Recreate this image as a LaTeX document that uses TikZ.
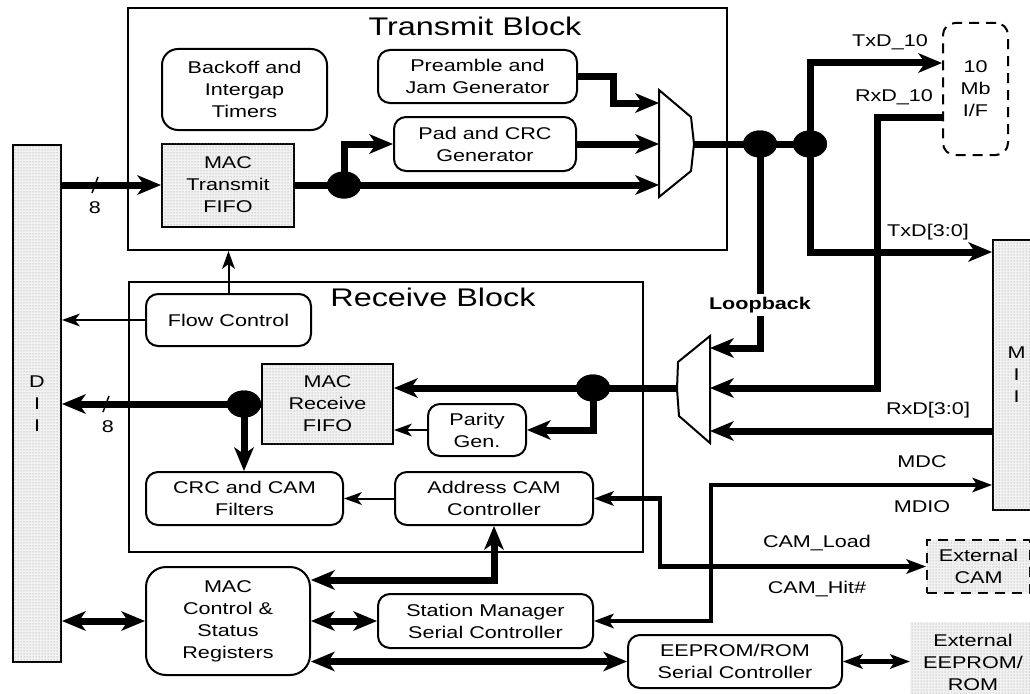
\documentclass[tikz,border=0pt]{standalone}
\usepackage{fontspec}
\setmainfont[FakeStretch=1.27]{Liberation Sans}
\usetikzlibrary{arrows.meta,shapes.geometric,calc,patterns}

\tikzset{
  x=1pt, y=-1pt,
  every node/.style={font=\fontsize{17}{22}\selectfont, align=center, inner sep=0pt},
  unit/.style={draw, line width=2pt, rounded corners=12pt, fill=white},
  stipple/.style={fill=black!5, postaction={pattern=dots, pattern color=black!45}},
  fifo/.style={draw, line width=2pt, stipple},
  blockbox/.style={draw, line width=2pt},
  extbox/.style={draw, line width=2pt, dash pattern=on 10pt off 7pt},
  title/.style={font=\fontsize{25.5}{30}\selectfont},
  dot/.style={ellipse, fill=black, minimum width=34pt, minimum height=27pt},
  mux/.style={draw, line width=2pt, fill=white, line join=miter},
  bushead/.tip={Stealth[length=24pt, width=20pt, inset=7pt, line width=0pt]},
  sighead/.tip={Stealth[length=20pt, width=15pt, inset=5pt, line width=0pt]},
  ctlhead/.tip={Stealth[length=18pt, width=13pt, inset=5pt, line width=0pt]},
  bus/.style={line width=7pt},
  sig/.style={line width=4.5pt},
  ctl/.style={line width=2pt},
}

\begin{document}
\begin{tikzpicture}
\useasboundingbox (0,0) rectangle (1030,693);
\clip (0,0) rectangle (1030,693);

% outer blocks
\node[blockbox, minimum width=599pt, minimum height=242pt] (tblock) at (427.5,129) {};
\node[title] at (475,26) {Transmit Block};
\node[blockbox, minimum width=514pt, minimum height=270pt] (rblock) at (386,417) {};
\node[title] at (433,297) {Receive Block};

% interfaces
\node[fifo, minimum width=48pt, minimum height=517pt] (di) at (37,403.5) {D\\I\\I};
\node[fifo, minimum width=47pt, minimum height=270pt] (mii) at (1016.5,375) {M\\I\\I};
\node[extbox, rounded corners=12pt, minimum width=65pt, minimum height=132pt] (iface) at (975.5,89) {10\\Mb\\I/F};
\node[extbox, stipple, minimum width=103pt, minimum height=53pt] (extcam) at (978.5,566.5) {External\\CAM};
\node[stipple, minimum width=126pt, minimum height=80pt] (xee) at (973,662) {External\\EEPROM/\\ROM};

% transmit block
\node[unit, rounded corners=16pt, minimum width=165pt, minimum height=81pt] (bk) at (244.5,89.5) {Backoff and\\Intergap\\Timers};
\node[unit, minimum width=199pt, minimum height=53pt] (pre) at (477.5,76.5) {Preamble and\\Jam Generator};
\node[unit, minimum width=182pt, minimum height=54pt] (pad) at (485,144) {Pad and CRC\\Generator};
\node[fifo, minimum width=132pt, minimum height=83pt] (tfifo) at (228,185) {MAC\\Transmit\\FIFO};

% receive block
\node[unit, minimum width=165pt, minimum height=52pt] (flow) at (228.5,320) {Flow Control};
\node[fifo, minimum width=131pt, minimum height=80pt] (rfifo) at (327.5,404) {MAC\\Receive\\FIFO};
\node[unit, minimum width=98pt, minimum height=52pt] (parity) at (477,430) {Parity\\Gen.};
\node[unit, minimum width=197pt, minimum height=53pt] (crcf) at (244.5,498.5) {CRC and CAM\\Filters};
\node[unit, minimum width=198pt, minimum height=53pt] (acam) at (494,498.5) {Address CAM\\Controller};

% management
\node[unit, rounded corners=20pt, minimum width=164pt, minimum height=108pt] (mcs) at (228,621) {MAC\\Control \&\\Status\\Registers};
\node[unit, minimum width=215pt, minimum height=54pt] (smsc) at (485.5,621) {Station Manager\\Serial Controller};
\node[unit, minimum width=214pt, minimum height=53pt] (eeprom) at (735,661.5) {EEPROM/ROM\\Serial Controller};

% multiplexer ports and bends
\coordinate (m1a) at (659,103);
\coordinate (m1b) at (659,144);
\coordinate (m1c) at (659,185);
\coordinate (m1o) at (694,144);
\coordinate (m2a) at (710,348);
\coordinate (m2b) at (710,388);
\coordinate (m2c) at (710,431);
\coordinate (m2o) at (677,388);
\coordinate (rxc) at (877,388);

% junction dots
\node[dot] (j1) at (344,185) {};
\node[dot] (j2) at (760,144) {};
\node[dot] (j3) at (810,144) {};
\node[dot] (j4) at (593,388) {};
\node[dot] (j5) at (244,404) {};

% transmit path
\draw[bus, -{bushead}] (di.east |- tfifo.west) -- (tfifo.west);
\draw[ctl, line width=1.5pt] (92,193) -- (98,177);
\node at (95,208) {8};
\draw[bus, -{bushead}] (tfifo.east) -- (j1.center) -- (m1c);
\draw[bus, -{bushead}] (j1.center) |- (pad.west);
\draw[bus, -{bushead}] (pre.east) -- ++(35,0) |- (m1a);
\draw[bus, -{bushead}] (pad.east) -- (m1b);
\draw[bus] (m1o) -- (j2.center) -- (j3.center);
\draw[bus, -{bushead}] (j3.center) |- ([yshift=26pt]iface.west);
\draw[bus, -{bushead}] (j3.center) |- ([yshift=-13pt]mii.north west);

% receive path
\draw[bus, -{bushead}] ([yshift=-28pt]iface.west) -| (rxc) -- (m2b);
\draw[bus, -{bushead}] (j2.center) |- (m2a);
\draw[bus, -{bushead}] ([yshift=-56pt]mii.west) -- (m2c);
\draw[bus, -{bushead}] (m2o) -- (j4.center) -- (rfifo.east |- j4.center);
\draw[bus, -{bushead}] (j4.center) |- (parity.east);
\draw[ctl, -{ctlhead}] (parity.west) -- (rfifo.east |- parity.west);
\draw[bus, -{bushead}] (rfifo.west) -- (j5.center) -- (di.east |- j5.center);
\draw[ctl, line width=1.5pt] (103,412) -- (109,396);
\node at (108,427) {8};
\draw[bus, -{bushead}] (j5.center) -- (j5.center |- crcf.north);
\draw[ctl, -{ctlhead}] (acam.west) -- (crcf.east);
\draw[ctl, -{ctlhead}] (flow.north) -- (flow.north |- tblock.south);
\draw[ctl, -{ctlhead}] (flow.west) -- (di.east |- flow.west);

% management paths
\draw[bus, {bushead}-{bushead}] (acam.south) |- ([yshift=41pt]mcs.east);
\draw[bus, {bushead}-{bushead}] (di.east |- mcs.west) -- (mcs.west);
\draw[bus, {bushead}-{bushead}] (mcs.east) -- (smsc.west);
\draw[bus, {bushead}-{bushead}] (eeprom.west -| mcs.east) -- (eeprom.west);
\draw[sig, {sighead}-{sighead}] ([yshift=-110pt]mii.west) -| ([xshift=117pt]smsc.east) -- (smsc.east);
\draw[sig, {sighead}-{sighead}] (acam.east) -- ++(66,0) |- (extcam.west);
\draw[sig, {sighead}-{sighead}] (eeprom.east) -- (xee.west |- eeprom.east);

% multiplexers
\draw[mux] (659,90) -- (691,117) -- (694,144) -- (691,171) -- (659,197) -- cycle;
\draw[mux] (710,336) -- (710,443) -- (679,416) -- (677,389) -- (678,362) -- cycle;

% redraw dots above the lines
\node[dot] at (j1) {};
\node[dot] at (j2) {};
\node[dot] at (j3) {};
\node[dot] at (j4) {};
\node[dot] at (j5) {};

% signal labels
\node[fill=white, inner sep=3pt, font=\fontsize{17}{22}\selectfont\bfseries] at (760,305) {Loopback};
\node at (890,42) {TxD\_10};
\node at (894,97) {RxD\_10};
\node at (928,232) {TxD[3:0]};
\node at (928,410) {RxD[3:0]};
\node at (922,462) {MDC};
\node at (922,507) {MDIO};
\node at (817,543) {CAM\_Load};
\node at (817,589) {CAM\_Hit\#};
\end{tikzpicture}
\end{document}
